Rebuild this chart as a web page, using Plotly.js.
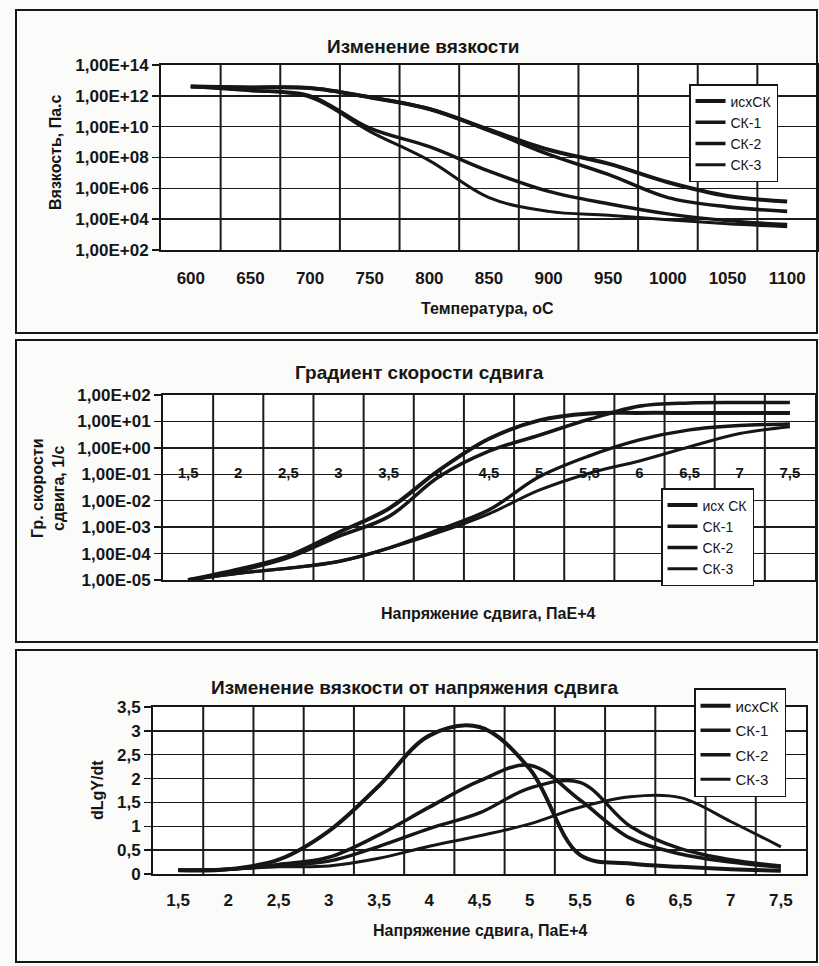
<!DOCTYPE html>
<html>
<head>
<meta charset="utf-8">
<script src="https://cdn.plot.ly/plotly-3.0.1.min.js"></script>
<style>
html,body{margin:0;padding:0;background:#fbfbfa;}
#chart{width:819px;height:966px;}
</style>
</head>
<body>
<div id="chart"></div>
<script>
// ---------- data ----------
const seriesNames = ['исхСК', 'СК-1', 'СК-2', 'СК-3'];
const seriesNames2 = ['исх СК', 'СК-1', 'СК-2', 'СК-3'];

// Chart 1: viscosity vs temperature (Pa·s)
const temperatures = [600, 650, 700, 750, 800, 850, 900, 950, 1000, 1050, 1100];
const temperatureLabels = ['600', '650', '700', '750', '800', '850', '900', '950', '1000', '1050', '1100'];
const viscIsxSK = [4.0e12, 3.5e12, 3.2e12, 8.0e11, 1.4e11, 6.3e9, 3.2e8, 4.0e7, 2.5e6, 3.2e5, 1.4e5];
const viscSK1   = [4.0e12, 3.5e12, 3.2e12, 8.0e11, 1.4e11, 5.6e9, 1.6e8, 8.0e6, 2.5e5, 6.3e4, 3.2e4];
const viscSK2   = [4.0e12, 2.2e12, 1.0e12, 8.0e9, 5.0e8, 1.3e7, 6.3e5, 1.0e5, 2.2e4, 8.0e3, 4.5e3];
const viscSK3   = [4.0e12, 2.2e12, 8.0e11, 5.0e9, 6.3e7, 2.5e5, 3.2e4, 1.8e4, 9.0e3, 5.0e3, 3.2e3];
const viscTickVals = [1e2, 1e4, 1e6, 1e8, 1e10, 1e12, 1e14];
const viscTickText = ['1,00E+02', '1,00E+04', '1,00E+06', '1,00E+08', '1,00E+10', '1,00E+12', '1,00E+14'];

// Chart 2: shear rate gradient vs shear stress (1/s)
const stress = [1.5, 2, 2.5, 3, 3.5, 4, 4.5, 5, 5.5, 6, 6.5, 7, 7.5];
const stressLabels = ['1,5', '2', '2,5', '3', '3,5', '4', '4,5', '5', '5,5', '6', '6,5', '7', '7,5'];
const rateIsxSK = [1e-5, 2.5e-5, 8e-5, 6.3e-4, 5e-3, 0.14, 2.2, 11, 20, 21, 21, 21, 21];
const rateSK1   = [1e-5, 2.2e-5, 7e-5, 4.5e-4, 2.5e-3, 0.08, 0.75, 3.0, 12, 38, 50, 52, 52];
const rateSK2   = [1e-5, 1.8e-5, 2.8e-5, 5e-5, 1.6e-4, 8e-4, 4.5e-3, 0.08, 0.5, 2.0, 4.8, 7.0, 8.0];
const rateSK3   = [1e-5, 1.8e-5, 2.8e-5, 5e-5, 1.6e-4, 6.3e-4, 3.2e-3, 0.025, 0.11, 0.32, 1.1, 3.5, 6.3];
const rateTickVals = [1e-5, 1e-4, 1e-3, 1e-2, 1e-1, 1, 10, 100];
const rateTickText = ['1,00E-05', '1,00E-04', '1,00E-03', '1,00E-02', '1,00E-01', '1,00E+00', '1,00E+01', '1,00E+02'];
const stressAxisCross = 0.1; // category axis crosses the value axis at 1,00E-01

// Chart 3: dLgY/dt vs shear stress
const dIsxSK = [0.08, 0.1, 0.3, 0.9, 1.85, 2.9, 3.08, 2.2, 0.4, 0.22, 0.15, 0.1, 0.07];
const dSK1   = [0.08, 0.1, 0.2, 0.35, 0.82, 1.4, 1.95, 2.28, 1.55, 0.75, 0.42, 0.25, 0.14];
const dSK2   = [0.08, 0.1, 0.18, 0.27, 0.58, 0.95, 1.28, 1.8, 1.92, 1.0, 0.53, 0.3, 0.17];
const dSK3   = [0.08, 0.1, 0.15, 0.17, 0.33, 0.58, 0.8, 1.05, 1.4, 1.62, 1.6, 1.1, 0.57];

// ---------- layout helpers ----------
const W = 819, H = 966;
const fx = px => px / W;
const fy = py => 1 - py / H;
const FONT = 'Liberation Sans, Arial, sans-serif';
const INK = '#161616';
const GRID = '#1c1c1c';

const lineStyle = w => ({color: INK, width: w, shape: 'spline', smoothing: 1});
const widths = [4, 3.6, 3.4, 3];

const traces = [];
const c1 = [viscIsxSK, viscSK1, viscSK2, viscSK3];
c1.forEach((ys, i) => traces.push({
  type: 'scatter', mode: 'lines', x: temperatures, y: ys, name: seriesNames[i],
  xaxis: 'x', yaxis: 'y', legend: 'legend', line: lineStyle(widths[i])
}));
const c2 = [rateIsxSK, rateSK1, rateSK2, rateSK3];
c2.forEach((ys, i) => traces.push({
  type: 'scatter', mode: 'lines', x: stress, y: ys, name: seriesNames2[i],
  xaxis: 'x2', yaxis: 'y2', legend: 'legend2', line: lineStyle(widths[i])
}));
// category labels of chart 2 sit on the 1,00E-01 line (where the axes cross)
traces.push({
  type: 'scatter', mode: 'text', x: stress, y: stress.map(() => stressAxisCross),
  text: stressLabels, textposition: 'middle center', showlegend: false, hoverinfo: 'skip',
  xaxis: 'x2', yaxis: 'y2',
  textfont: {family: FONT, size: 15, color: INK, weight: 700}
});
const c3 = [dIsxSK, dSK1, dSK2, dSK3];
c3.forEach((ys, i) => traces.push({
  type: 'scatter', mode: 'lines', x: stress, y: ys, name: seriesNames[i],
  xaxis: 'x3', yaxis: 'y3', legend: 'legend3', legendgroup: 'g' + i, line: lineStyle(widths[i])
}));

const tickFont = {family: FONT, size: 17, color: INK, weight: 700};
const axBase = {
  showline: true, linecolor: INK, linewidth: 2, mirror: true,
  zeroline: false, fixedrange: true, automargin: false, tickfont: tickFont
};
// category-style x axis: labels at category centres
const catAxis = (vals, labels, step, dom, anchor, extra) => Object.assign({}, axBase, {
  type: 'linear', range: [vals[0] - step / 2, vals[vals.length - 1] + step / 2],
  tickmode: 'array', tickvals: vals, ticktext: labels, showgrid: false,
  domain: dom, anchor: anchor, ticks: 'outside', tickcolor: 'rgba(0,0,0,0)'
}, extra);
const valAxis = (dom, anchor, extra) => Object.assign({}, axBase, {
  showgrid: true, gridcolor: GRID, gridwidth: 1.5,
  domain: dom, anchor: anchor, ticks: 'outside', ticklen: 7, tickcolor: INK, tickwidth: 1.5
}, extra);

// vertical gridlines between categories (Excel "between tick marks")
const catGrid = (vals, step, xref, yref) => vals.slice(0, -1).map(v => ({
  type: 'line', xref: xref, yref: yref + ' domain', x0: v + step / 2, x1: v + step / 2, y0: 0, y1: 1,
  line: {color: GRID, width: 2}, layer: 'below'
}));

const legendBase = {
  bgcolor: '#ffffff', bordercolor: INK, borderwidth: 1.5,
  font: {family: FONT, size: 14, color: INK}, xanchor: 'left', yanchor: 'top',
  itemwidth: 30, tracegroupgap: 0
};

const ann = (text, x, y, size, extra) => Object.assign({
  text: text, x: fx(x), y: fy(y), xref: 'paper', yref: 'paper', showarrow: false,
  xanchor: 'center', yanchor: 'middle', font: {family: FONT, size: size, color: INK, weight: 700}
}, extra || {});

const frames = [
  {type: 'rect', xref: 'paper', yref: 'paper', x0: fx(16), x1: fx(817), y0: fy(10), y1: fy(333), line: {color: INK, width: 2}},
  {type: 'rect', xref: 'paper', yref: 'paper', x0: fx(16), x1: fx(817), y0: fy(340), y1: fy(642), line: {color: INK, width: 2}},
  {type: 'rect', xref: 'paper', yref: 'paper', x0: fx(16), x1: fx(817), y0: fy(650), y1: fy(962), line: {color: INK, width: 2}}
];

const layout = {
  width: W, height: H,
  margin: {l: 0, r: 0, t: 0, b: 0},
  paper_bgcolor: '#fbfbfa', plot_bgcolor: '#ffffff',
  separators: ', ',
  showlegend: true,
  xaxis: catAxis(temperatures, temperatureLabels, 50, [fx(161), fx(817)], 'y', {ticklen: 12}),
  yaxis: valAxis([fy(250), fy(65)], 'x', {type: 'log', range: [2, 14], tickvals: viscTickVals, ticktext: viscTickText}),
  xaxis2: catAxis(stress, stressLabels, 0.5, [fx(163), fx(815)], 'y2', {showticklabels: false}),
  yaxis2: valAxis([fy(580), fy(395)], 'x2', {type: 'log', range: [-5, 2], tickvals: rateTickVals, ticktext: rateTickText}),
  xaxis3: catAxis(stress, stressLabels, 0.5, [fx(153), fx(806)], 'y3', {ticklen: 10}),
  yaxis3: valAxis([fy(874), fy(707)], 'x3', {range: [0, 3.5], dtick: 0.5}),
  legend: Object.assign({}, legendBase, {x: fx(689), y: fy(84)}),
  legend2: Object.assign({}, legendBase, {x: fx(661), y: fy(488)}),
  legend3: Object.assign({}, legendBase, {x: fx(694), y: fy(688), font: {family: FONT, size: 15, color: INK}, tracegroupgap: 2}),
  shapes: frames
    .concat(catGrid(temperatures, 50, 'x', 'y'))
    .concat(catGrid(stress, 0.5, 'x2', 'y2'))
    .concat(catGrid(stress, 0.5, 'x3', 'y3')),
  annotations: [
    ann('Изменение вязкости', 423, 46, 19),
    ann('Температура, оС', 487, 308, 16),
    ann('Вязкость, Па.с', 55, 152, 16, {textangle: -90}),
    ann('Градиент скорости сдвига', 420, 373, 19),
    ann('Гр. скорости<br>сдвига, 1/с', 48, 488, 16, {textangle: -90}),
    ann('Напряжение сдвига, ПаЕ+4', 488, 613, 16),
    ann('Изменение вязкости от напряжения сдвига', 415, 687, 19),
    ann('dLgY/dt', 97, 790, 16, {textangle: -90}),
    ann('Напряжение сдвига, ПаЕ+4', 480, 930, 16)
  ]
};

Plotly.newPlot('chart', traces, layout, {displayModeBar: false, staticPlot: true});
</script>
</body>
</html>
